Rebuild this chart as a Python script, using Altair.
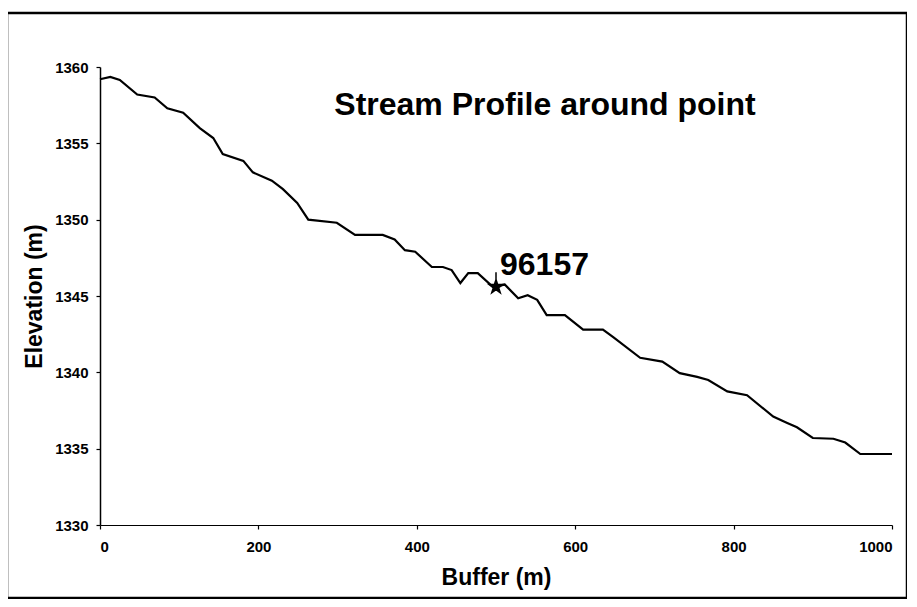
import altair as alt
import pandas as pd

# Data
buffer_m = [0, 13, 25, 47, 69, 85, 105, 126, 143, 155, 181, 193, 217, 231, 249, 263,
            299, 322, 357, 372, 385, 398, 419, 433, 444, 455, 465, 477, 496, 511, 528,
            540, 552, 564, 587, 610, 635, 648, 682, 710, 732, 754, 768, 792, 817, 850,
            867, 880, 900, 926, 941, 960, 1000]
elevation_m = [1359.2, 1359.35, 1359.15, 1358.2, 1358.0, 1357.3, 1357.0, 1356.0, 1355.35,
               1354.3, 1353.85, 1353.1, 1352.55, 1352.0, 1351.1, 1350.0, 1349.8, 1349.0,
               1349.0, 1348.7, 1348.0, 1347.9, 1346.9, 1346.9, 1346.7, 1345.85, 1346.5,
               1346.5, 1345.6, 1345.75, 1344.85, 1345.05, 1344.75, 1343.75, 1343.75,
               1342.8, 1342.8, 1342.3, 1340.95, 1340.7, 1339.95, 1339.7, 1339.5, 1338.75,
               1338.5, 1337.1, 1336.7, 1336.4, 1335.7, 1335.65, 1335.4, 1334.65, 1334.65]

point_buffer = [500]
point_elev = [1345.6]
point_label = ["96157"]

title_text = ["Stream Profile around point"]

df = pd.DataFrame({"Buffer": buffer_m, "Elevation": elevation_m})
pt = pd.DataFrame({"Buffer": point_buffer, "Elevation": point_elev, "Label": point_label})
tt = pd.DataFrame({"t": title_text})

FONT = "Liberation Sans"

STAR_PATH = ("M0,-0.9 L0.2,-0.28 L0.86,-0.28 L0.33,0.11 L0.53,0.73 L0,0.35 "
             "L-0.53,0.73 L-0.33,0.11 L-0.86,-0.28 L-0.2,-0.28 Z M0,-0.9 L0,-1.8")

x_scale = alt.Scale(domain=[0, 1000], nice=False, zero=False)
y_scale = alt.Scale(domain=[1330, 1360], nice=False, zero=False)

x_axis = alt.Axis(
    orient="bottom", title="Buffer (m)", values=[0, 200, 400, 600, 800, 1000], grid=False,
    format="d",
    domainColor="black", domainWidth=1.2, tickColor="black", tickSize=4, tickWidth=1.2,
    labelFont=FONT, labelFontSize=15, labelFontWeight="bold", labelColor="black",
    labelPadding=10, titleFont=FONT, titleFontSize=23, titleFontWeight="bold",
    titleColor="black", titleX=396, titleY=52, titleBaseline="middle", titleAlign="center",
)
y_axis = alt.Axis(
    orient="left", title="Elevation (m)", values=[1330, 1335, 1340, 1345, 1350, 1355, 1360],
    grid=False, format="d",
    domainColor="black", domainWidth=1.5, tickColor="black", tickSize=4, tickWidth=1.2,
    labelFont=FONT, labelFontSize=15, labelFontWeight="bold", labelColor="black",
    labelPadding=8, titleFont=FONT, titleFontSize=23, titleFontWeight="bold",
    titleColor="black", titleAngle=270, titleX=-66, titleY=229,
    titleBaseline="middle", titleAlign="center",
)

X = alt.X("Buffer:Q", scale=x_scale, axis=x_axis)
Y = alt.Y("Elevation:Q", scale=y_scale, axis=y_axis)

line = alt.Chart(df).mark_line(color="black", strokeWidth=2.2).encode(x=X, y=Y)

star = alt.Chart(pt).mark_point(
    shape=STAR_PATH, filled=True, fill="black", stroke="black", strokeWidth=1.5,
    size=260, opacity=1,
).encode(x=X, y=Y)

label = alt.Chart(pt).mark_text(
    align="left", baseline="middle", dx=4, dy=-22,
    font=FONT, fontSize=32, fontWeight="bold", color="black",
).encode(x=X, y=Y, text="Label:N")

title = alt.Chart(tt).mark_text(
    align="center", baseline="middle", font=FONT, fontSize=32, fontWeight="bold", color="black",
).encode(x=alt.value(445), y=alt.value(38), text="t:N")

border = alt.Chart(tt).mark_rect(
    fill="transparent", stroke="black", strokeWidth=2.5, clip=False,
).encode(x=alt.value(-93), x2=alt.value(807), y=alt.value(-54), y2=alt.value(531))

chart = alt.layer(line, star, label, title, border).properties(
    width=792, height=458,
    padding={"left": 92, "top": 59, "right": 15, "bottom": 74},
    autosize=alt.AutoSizeParams(type="none"),
    background="white",
).configure_view(stroke=None)

chart.save("out.html", embed_options={"renderer": "svg", "actions": False})
